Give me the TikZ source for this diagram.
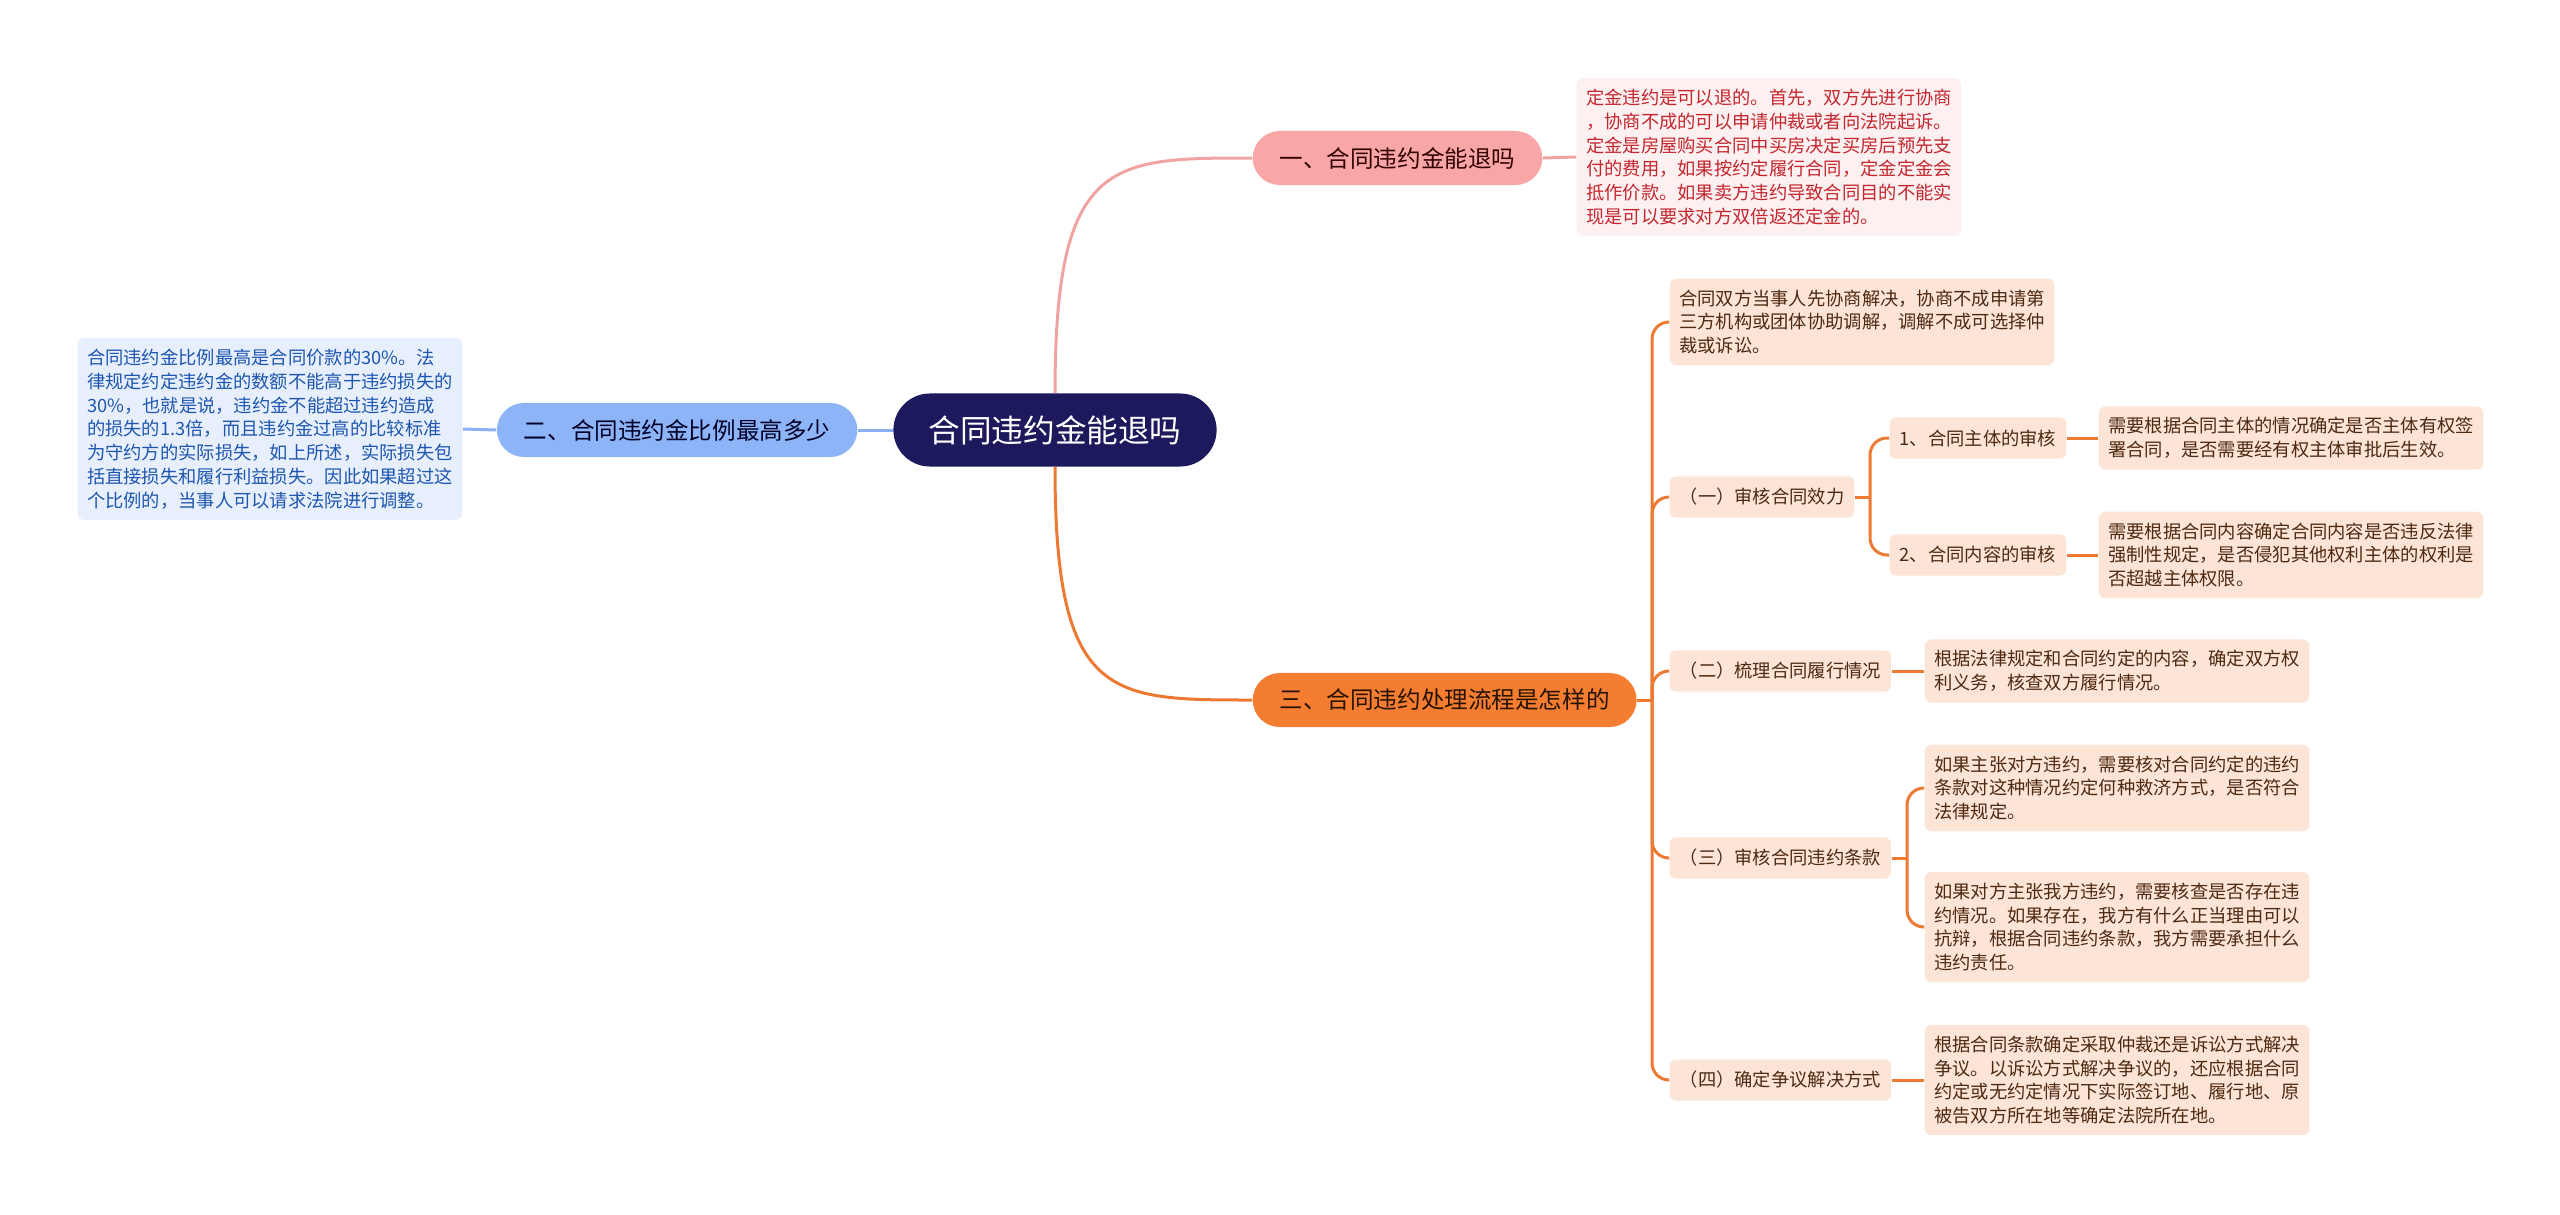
\documentclass[tikz,border=0pt]{standalone}
\usepackage{fontspec}
\setmainfont{Noto Sans CJK SC}
\usetikzlibrary{positioning}

\definecolor{rootfill}{HTML}{1C1A5C}
\definecolor{pinkfill}{HTML}{F8A7A6}
\definecolor{pinkline}{HTML}{F0A4A2}
\definecolor{pinknote}{HTML}{FDF0F0}
\definecolor{pinktext}{HTML}{C3272F}
\definecolor{bluefill}{HTML}{8CB4F6}
\definecolor{blueline}{HTML}{8AB2F2}
\definecolor{bluenote}{HTML}{E7EFFC}
\definecolor{bluetext}{HTML}{1E56B0}
\definecolor{orangefill}{HTML}{F47D31}
\definecolor{orangeline}{HTML}{EC7A33}
\definecolor{peach}{HTML}{FCE4D6}
\definecolor{browntext}{HTML}{4E2A12}

\begin{document}
\begin{tikzpicture}[x=0.01cm, y=-0.01cm,
      root/.style={fill=rootfill, text=white, font=\fontsize{9pt}{11pt}\selectfont,
                  minimum height=0.73cm, inner xsep=0.35cm, rounded corners=0.365cm},
      topic/.style={minimum height=0.54cm, inner xsep=0.27cm, rounded corners=0.27cm,
                  font=\fontsize{6.7pt}{8pt}\selectfont},
      sub/.style={fill=peach, text=browntext, minimum height=0.41cm, inner xsep=0.1cm,
                  rounded corners=0.06cm, font=\fontsize{5.2pt}{6.76pt}\selectfont},
      note/.style={align=left, inner xsep=0.095cm, inner ysep=0.11cm, rounded corners=0.07cm,
                  font=\fontsize{5.2pt}{6.76pt}\selectfont},
      onote/.style={note, fill=peach, text=browntext},
      link/.style={line width=0.03cm},
      olink/.style={link, orangeline},
      elbow/.style={olink, rounded corners=0.17cm}]

    \fill[white] (0,0) rectangle (2560,1215);
    \useasboundingbox (0,0) rectangle (2560,1215);

    % ---- Centre ----
    \node[root] (root) at (1055,430) {合同违约金能退吗};

    % ---- Branch one (pink) ----
    \node[topic, fill=pinkfill, text=black!80!red, anchor=west] (t1) at (1252,158) {一、合同违约金能退吗};
    \node[note, fill=pinknote, text=pinktext, anchor=west] (n1) at (1576,157)
      {定金违约是可以退的。首先，双方先进行协商\\，协商不成的可以申请仲裁或者向法院起诉。\\定金是房屋购买合同中买房决定买房后预先支\\付的费用，如果按约定履行合同，定金定金会\\抵作价款。如果卖方违约导致合同目的不能实\\现是可以要求对方双倍返还定金的。};

    \draw[pinkline, link] (root.north) .. controls (1055,158) and (1110,158) .. (t1.west);
    \draw[pinkline, link] (t1.east) -- (n1.west);

    % ---- Branch two (blue) ----
    \node[topic, fill=bluefill, text=black!85!blue, anchor=east] (t2) at (858,430) {二、合同违约金比例最高多少};
    \node[note, fill=bluenote, text=bluetext, anchor=east] (n2) at (463,429)
      {合同违约金比例最高是合同价款的30\%。法\\律规定约定违约金的数额不能高于违约损失的\\30\%，也就是说，违约金不能超过违约造成\\的损失的1.3倍，而且违约金过高的比较标准\\为守约方的实际损失，如上所述，实际损失包\\括直接损失和履行利益损失。因此如果超过这\\个比例的，当事人可以请求法院进行调整。};

    \draw[blueline, link] (root.west) -- (t2.east);
    \draw[blueline, link] (t2.west) -- (n2.east);

    % ---- Branch three (orange) ----
    \node[topic, fill=orangefill, text=black!85!orange, anchor=west] (t3) at (1252,700) {三、合同违约处理流程是怎样的};
    \draw[olink] (root.south) .. controls (1055,700) and (1110,700) .. (t3.west);

    \node[onote, anchor=west] (c0) at (1669,322)
      {合同双方当事人先协商解决，协商不成申请第\\三方机构或团体协助调解，调解不成可选择仲\\裁或诉讼。};
    \node[sub, anchor=west] (c1) at (1669,497) {（一）审核合同效力};
    \node[sub, anchor=west] (c2) at (1669,671) {（二）梳理合同履行情况};
    \node[sub, anchor=west] (c3) at (1669,858) {（三）审核合同违约条款};
    \node[sub, anchor=west] (c4) at (1669,1080) {（四）确定争议解决方式};

    \coordinate (j3) at (1652,700);
    \draw[olink] (t3.east) -- (j3);
    \foreach \c in {c0,c1,c2,c3,c4}
      \draw[elbow] (j3) |- (\c.west);

    % (一) -> two checks
    \node[sub, anchor=west] (s1) at (1889,438) {1、合同主体的审核};
    \node[sub, anchor=west] (s2) at (1889,555) {2、合同内容的审核};
    \node[onote, anchor=west] (d1) at (2098,438)
      {需要根据合同主体的情况确定是否主体有权签\\署合同，是否需要经有权主体审批后生效。};
    \node[onote, anchor=west] (d2) at (2098,555)
      {需要根据合同内容确定合同内容是否违反法律\\强制性规定，是否侵犯其他权利主体的权利是\\否超越主体权限。};

    \coordinate (j1) at (1870,497);
    \draw[olink] (c1.east) -- (j1);
    \foreach \s in {s1,s2}
      \draw[elbow] (j1) |- (\s.west);
    \draw[olink] (s1.east) -- (d1.west);
    \draw[olink] (s2.east) -- (d2.west);

    % (二)
    \node[onote, anchor=west] (e1) at (1924,671)
      {根据法律规定和合同约定的内容，确定双方权\\利义务，核查双方履行情况。};
    \draw[olink] (c2.east) -- (e1.west);

    % (三)
    \node[onote, anchor=west] (f1) at (1924,788)
      {如果主张对方违约，需要核对合同约定的违约\\条款对这种情况约定何种救济方式，是否符合\\法律规定。};
    \node[onote, anchor=west] (f2) at (1924,927)
      {如果对方主张我方违约，需要核查是否存在违\\约情况。如果存在，我方有什么正当理由可以\\抗辩，根据合同违约条款，我方需要承担什么\\违约责任。};

    \coordinate (jc3) at (1907,858);
    \draw[olink] (c3.east) -- (jc3);
    \foreach \f in {f1,f2}
      \draw[elbow] (jc3) |- (\f.west);

    % (四)
    \node[onote, anchor=west] (g1) at (1924,1080)
      {根据合同条款确定采取仲裁还是诉讼方式解决\\争议。以诉讼方式解决争议的，还应根据合同\\约定或无约定情况下实际签订地、履行地、原\\被告双方所在地等确定法院所在地。};
    \draw[olink] (c4.east) -- (g1.west);

    \end{tikzpicture}
\end{document}
